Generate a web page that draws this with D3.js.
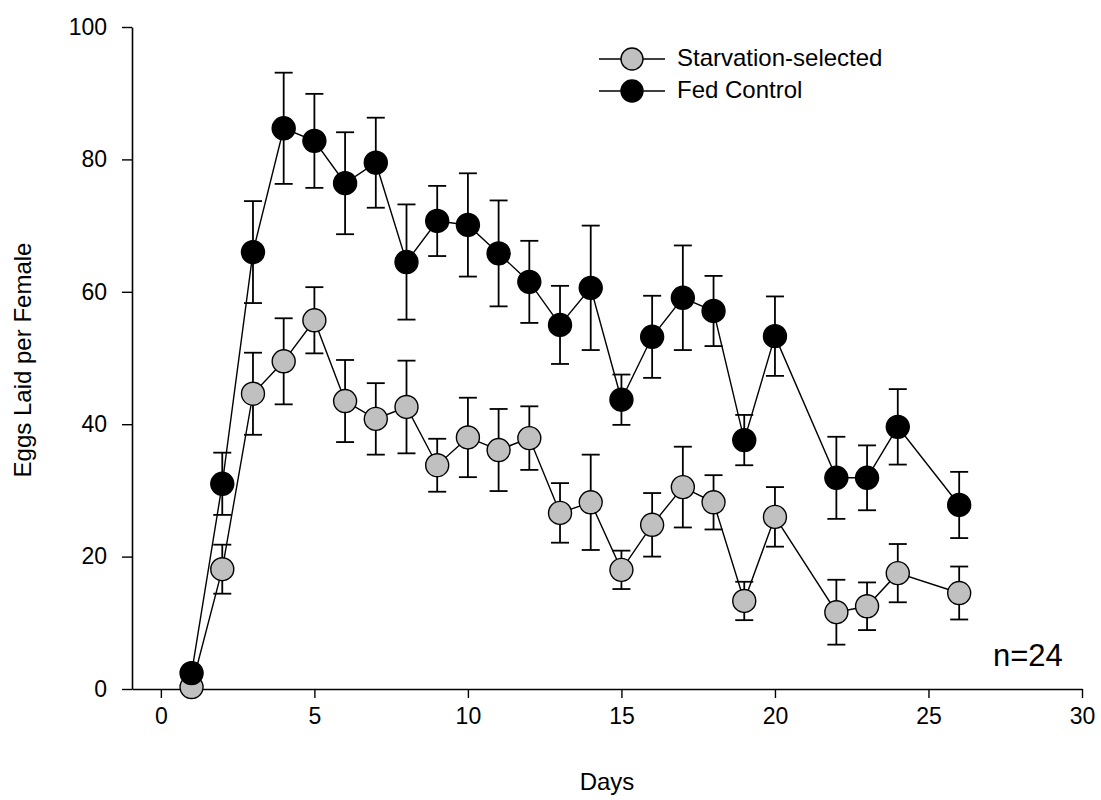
<!DOCTYPE html>
<html>
<head>
<meta charset="utf-8">
<script src="https://cdn.jsdelivr.net/npm/d3@7"></script>
<style>
  body { margin: 0; background: #fff; }
  text { font-family: "Liberation Sans", Arial, sans-serif; fill: #000; }
</style>
</head>
<body>
<div id="chart"></div>
<script>
// Data
var fedDays = [1, 2, 3, 4, 5, 6, 7, 8, 9, 10, 11, 12, 13, 14, 15, 16, 17, 18, 19, 20, 22, 23, 24, 26];
var fedMean = [2.4, 31, 66, 84.7, 82.8, 76.4, 79.5, 64.5, 70.7, 70.1, 65.8, 61.5, 55, 60.6, 43.7, 53.2, 59.1, 57.1, 37.6, 53.3, 31.9, 31.9, 39.6, 27.8];
var fedErr = [0, 4.7, 7.7, 8.4, 7.1, 7.7, 6.8, 8.7, 5.3, 7.8, 8.0, 6.2, 5.9, 9.4, 3.8, 6.2, 7.9, 5.3, 3.8, 6.0, 6.2, 4.9, 5.7, 5.0];

var starvDays = [1, 2, 3, 4, 5, 6, 7, 8, 9, 10, 11, 12, 13, 14, 15, 16, 17, 18, 19, 20, 22, 23, 24, 26];
var starvMean = [0.3, 18.1, 44.6, 49.5, 55.7, 43.5, 40.8, 42.6, 33.8, 38, 36.1, 37.9, 26.6, 28.2, 18, 24.8, 30.5, 28.2, 13.3, 26, 11.6, 12.5, 17.5, 14.5];
var starvErr = [0, 3.7, 6.2, 6.5, 5.0, 6.2, 5.4, 7.0, 4.0, 6.0, 6.2, 4.8, 4.5, 7.2, 2.9, 4.8, 6.1, 4.1, 2.9, 4.5, 4.9, 3.6, 4.4, 4.0];

var xTicks = [0, 5, 10, 15, 20, 25, 30];
var yTicks = [0, 20, 40, 60, 80, 100];

var svgWidth = 1101;
var svgHeight = 800;

var svg = d3.select("#chart")
  .append("svg")
  .attr("width", svgWidth)
  .attr("height", svgHeight);

// Scales
var xScale = d3.scaleLinear()
  .domain([-0.94, 30])
  .range([132, 1082]);

var yScale = d3.scaleLinear()
  .domain([0, 100])
  .range([689, 27]);

// Axes
var bottomAxis = d3.axisBottom(xScale)
  .tickValues(xTicks)
  .tickSize(9)
  .tickPadding(10)
  .tickSizeOuter(0);

var leftAxis = d3.axisLeft(yScale)
  .tickValues(yTicks)
  .tickSize(10)
  .tickPadding(15)
  .tickSizeOuter(0);

var xAxisG = svg.append("g")
  .attr("transform", "translate(0, 689)")
  .call(bottomAxis);

var yAxisG = svg.append("g")
  .attr("transform", "translate(132, 0)")
  .call(leftAxis);

[xAxisG, yAxisG].forEach(function (g) {
  g.selectAll("path").attr("stroke", "#000").attr("stroke-width", 1.6);
  g.selectAll("line").attr("stroke", "#000").attr("stroke-width", 1.4);
  g.selectAll("text")
    .attr("font-size", "23px")
    .attr("font-family", "'Liberation Sans', Arial, sans-serif")
    .attr("fill", "#000");
});

// Axis labels
svg.append("text")
  .attr("x", 607)
  .attr("y", 790)
  .attr("text-anchor", "middle")
  .attr("font-size", "24px")
  .text("Days");

svg.append("text")
  .attr("transform", "translate(31, 360) rotate(-90)")
  .attr("text-anchor", "middle")
  .attr("font-size", "24px")
  .text("Eggs Laid per Female");

// Draw one series: line, error bars, markers
function drawSeries(days, mean, err, fill) {
  var pts = days.map(function (d, i) { return { x: d, y: mean[i], e: err[i] }; });

  var line = d3.line()
    .x(function (d) { return xScale(d.x); })
    .y(function (d) { return yScale(d.y); });

  svg.append("path")
    .datum(pts)
    .attr("d", line)
    .attr("fill", "none")
    .attr("stroke", "#000")
    .attr("stroke-width", 1.4);

  var eb = svg.append("g")
    .selectAll("g")
    .data(pts.filter(function (d) { return d.e > 0; }))
    .enter()
    .append("g")
    .attr("stroke", "#000")
    .attr("stroke-width", 1.8);

  eb.append("line")
    .attr("x1", function (d) { return xScale(d.x); })
    .attr("x2", function (d) { return xScale(d.x); })
    .attr("y1", function (d) { return yScale(d.y + d.e); })
    .attr("y2", function (d) { return yScale(d.y - d.e); });

  [1, -1].forEach(function (s) {
    eb.append("line")
      .attr("x1", function (d) { return xScale(d.x) - 9; })
      .attr("x2", function (d) { return xScale(d.x) + 9; })
      .attr("y1", function (d) { return yScale(d.y + s * d.e); })
      .attr("y2", function (d) { return yScale(d.y + s * d.e); });
  });

  svg.append("g")
    .selectAll("circle")
    .data(pts)
    .enter()
    .append("circle")
    .attr("cx", function (d) { return xScale(d.x); })
    .attr("cy", function (d) { return yScale(d.y); })
    .attr("r", 11.5)
    .attr("fill", fill)
    .attr("stroke", "#000")
    .attr("stroke-width", 1.4);
}

drawSeries(starvDays, starvMean, starvErr, "#c0c0c0");
drawSeries(fedDays, fedMean, fedErr, "#000");

// Legend
var legend = [
  { name: "Starvation-selected", fill: "#c0c0c0" },
  { name: "Fed Control", fill: "#000" }
];

var lg = svg.append("g")
  .selectAll("g")
  .data(legend)
  .enter()
  .append("g")
  .attr("transform", function (d, i) { return "translate(0," + (59 + i * 32) + ")"; });

lg.append("line")
  .attr("x1", 599).attr("x2", 665)
  .attr("y1", 0).attr("y2", 0)
  .attr("stroke", "#000")
  .attr("stroke-width", 1.4);

lg.append("circle")
  .attr("cx", 632).attr("cy", 0).attr("r", 11)
  .attr("fill", function (d) { return d.fill; })
  .attr("stroke", "#000")
  .attr("stroke-width", 1.4);

lg.append("text")
  .attr("x", 677)
  .attr("y", 7)
  .attr("font-size", "24px")
  .text(function (d) { return d.name; });

// Sample size note
svg.append("text")
  .attr("x", 993)
  .attr("y", 666)
  .attr("font-size", "31px")
  .text("n=24");
</script>
</body>
</html>
